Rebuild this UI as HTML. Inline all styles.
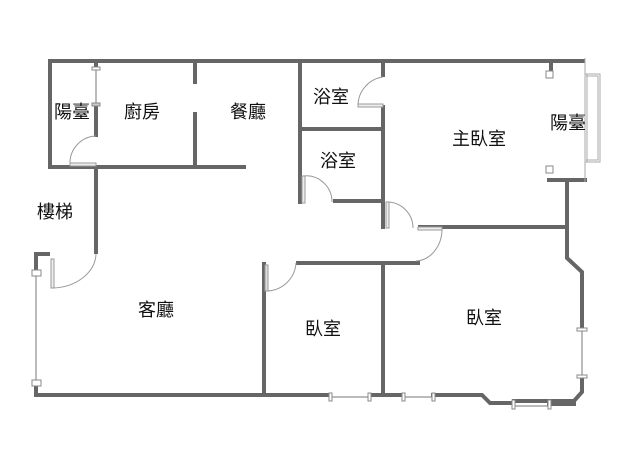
<!DOCTYPE html>
<html><head><meta charset="utf-8"><style>
html,body{margin:0;padding:0;background:#fff;width:638px;height:460px;overflow:hidden}
svg{display:block}
text{font-family:"Liberation Sans","Noto Sans CJK TC",sans-serif;font-size:18px;fill:#111;text-anchor:middle;dominant-baseline:middle}
</style></head><body>
<svg width="638" height="460" viewBox="0 0 638 460">
<g stroke="#666" stroke-width="4" fill="none" stroke-linecap="square">
<path d="M50 61 H583"/>
<path d="M50 61 V167 H244"/>
<path d="M96 61 V66"/>
<path d="M96 105 V135"/>
<path d="M96 169 V252"/>
<path d="M195 61 V82"/><path d="M195 114 V167"/>
<path d="M300 61 V202"/>
<path d="M300 129 H383"/>
<path d="M383 61 V75"/><path d="M383 107 V227"/>
<path d="M335 201 H383"/>
<path d="M551 61 V71"/>
<path d="M549 180 H585"/>
<path d="M567 180 V258 L582 272 V328"/>
<path d="M582 377 V392 L574 401 H514"/>
<path d="M549 404 H574"/>
<path d="M420 227 H567"/>
<path d="M298 263 H418"/>
<path d="M264 264 V395"/>
<path d="M383 263 V395"/>
<path d="M36 383 V395 H330"/>
<path d="M370 395 H403"/>
<path d="M433 395 H482 L490 403 H513"/>
<path d="M36 272 V254 H48"/>
</g>
<g stroke="#777" stroke-width="1" fill="none">
<path d="M96 68 V104"/>
<path d="M36 272 V383"/>
<path d="M330 397 H370"/>
<path d="M403 397 H433"/>
<path d="M513 406 H550"/>
<path d="M582 328 V377"/>
</g>
<g stroke="#888" stroke-width="1" fill="#fff">
<rect x="92" y="67" width="8" height="3"/><rect x="92" y="103" width="8" height="3" fill="#ccc"/>
<rect x="32" y="270" width="9" height="6"/><rect x="32" y="380" width="9" height="6"/>
<rect x="329" y="393" width="3" height="8"/><rect x="368" y="393" width="3" height="8"/>
<rect x="402" y="393" width="3" height="8"/><rect x="432" y="393" width="3" height="8"/>
<rect x="512" y="400" width="3" height="9"/><rect x="548" y="400" width="3" height="9"/>
<rect x="577" y="328" width="10" height="3"/><rect x="577" y="375" width="10" height="3"/>
<rect x="546" y="71" width="7" height="7"/><rect x="546" y="166" width="7" height="7"/>
</g>
<g stroke="#aaa" stroke-width="1" fill="none">
<path d="M585 58 V182"/><path d="M587 74 V162"/>
<path d="M585 74 H600 V162 H585"/><path d="M586 76 H598 V160 H586"/>
</g>
<g stroke="#999" stroke-width="1" fill="none">
<path d="M96 136 A27 27 0 0 0 70 163"/>
<rect x="70" y="163" width="26" height="3" fill="#eee"/>
<path d="M383 77 A29 29 0 0 0 358 106"/>
<rect x="358" y="104" width="25" height="3" fill="#eee"/>
<path d="M303 176 A26 26 0 0 1 332 202"/>
<rect x="302" y="176" width="3" height="27" fill="#eee"/>
<path d="M387 202 A26 26 0 0 1 413 228"/>
<rect x="386" y="202" width="3" height="26" fill="#eee"/>
<path d="M442 229 A27 32 0 0 1 416 261"/>
<rect x="418" y="227" width="24" height="3" fill="#eee"/>
<path d="M96 254 A45 35 0 0 1 52 288"/>
<rect x="51" y="259" width="3" height="29" fill="#eee"/>
<path d="M296 263 A30 30 0 0 1 267 291"/>
<rect x="265" y="265" width="3" height="26" fill="#ddd"/>
</g>
<text x="72" y="113">陽臺</text>
<text x="142" y="113">廚房</text>
<text x="248" y="113">餐廳</text>
<text x="331" y="98">浴室</text>
<text x="338" y="162">浴室</text>
<text x="479" y="140">主臥室</text>
<text x="568" y="124">陽臺</text>
<text x="55" y="213">樓梯</text>
<text x="156" y="311">客廳</text>
<text x="323" y="330">臥室</text>
<text x="484" y="319">臥室</text>
</svg>
</body></html>
